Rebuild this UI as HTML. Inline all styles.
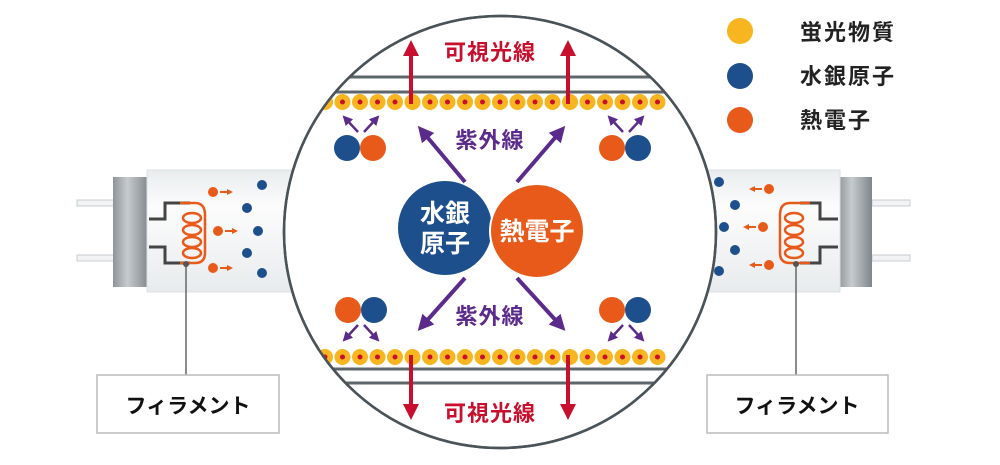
<!DOCTYPE html>
<html><head><meta charset="utf-8"><style>
html,body{margin:0;padding:0;background:#fff;width:1000px;height:465px;overflow:hidden}
svg text{font-family:"Liberation Sans","Noto Sans CJK JP",sans-serif;font-weight:bold}
</style></head><body>
<svg width="1000" height="465" viewBox="0 0 1000 465" xmlns="http://www.w3.org/2000/svg">
<defs>
<linearGradient id="cap" x1="0" x2="1"><stop offset="0" stop-color="#8e9499"/><stop offset="0.4" stop-color="#c7cbce"/><stop offset="1" stop-color="#7f868b"/></linearGradient>
<linearGradient id="glass" x1="0" y1="0" x2="0" y2="1"><stop offset="0" stop-color="#e9ecee"/><stop offset="0.3" stop-color="#fcfcfc"/><stop offset="1" stop-color="#e8ebed"/></linearGradient>
<marker id="pa" markerWidth="4" markerHeight="4" refX="2" refY="2" orient="auto" markerUnits="strokeWidth"><path d="M0,0 L4,2 L0,4 Z" fill="#5b2b8c"/></marker>
<marker id="ra" markerWidth="4" markerHeight="4" refX="2" refY="2" orient="auto" markerUnits="strokeWidth"><path d="M0,0 L4,2 L0,4 Z" fill="#c8102e"/></marker>
<marker id="oa" markerWidth="3" markerHeight="3" refX="1.5" refY="1.5" orient="auto" markerUnits="strokeWidth"><path d="M0,0 L3,1.5 L0,3 Z" fill="#e85a1a"/></marker>
<clipPath id="cc"><circle cx="500" cy="232" r="216"/></clipPath>
</defs>

<!-- left tube -->
<rect x="77" y="200" width="38" height="6" fill="#f2f3f4" stroke="#c8cccf"/>
<rect x="77" y="255" width="38" height="6" fill="#f2f3f4" stroke="#c8cccf"/>
<rect x="113" y="177" width="36" height="110" fill="url(#cap)"/>
<rect x="147" y="170" width="150" height="122" fill="url(#glass)" stroke="#dde0e2"/>
<path d="M149,219 H165 V203 H190" fill="none" stroke="#444" stroke-width="3"/>
<path d="M149,247 H165 V263 H190" fill="none" stroke="#444" stroke-width="3"/>
<path d="M180,203 H195 Q205,203 205,215 V253 Q205,263 195,263 H180" fill="none" stroke="#e85a1a" stroke-width="2.5"/>
<g fill="none" stroke="#e85a1a" stroke-width="2.5"><ellipse cx="192" cy="218" rx="9" ry="5"/><ellipse cx="192" cy="230" rx="9" ry="5"/><ellipse cx="192" cy="242" rx="9" ry="5"/><ellipse cx="192" cy="253" rx="9" ry="5"/></g>
<line x1="186" y1="264" x2="186" y2="375" stroke="#666" stroke-width="1.5"/><circle cx="186" cy="264" r="3" fill="#555"/>
<g fill="#e85a1a"><circle cx="213" cy="192" r="5"/><circle cx="218" cy="231" r="5"/><circle cx="213" cy="268" r="5"/></g>
<g stroke="#e85a1a" stroke-width="2" marker-end="url(#oa)"><line x1="220" y1="192" x2="230" y2="192"/><line x1="225" y1="231" x2="235" y2="231"/><line x1="220" y1="268" x2="230" y2="268"/></g>
<g fill="#1d4f8c"><circle cx="262" cy="185" r="5"/><circle cx="247" cy="208" r="5"/><circle cx="258" cy="231" r="5"/><circle cx="247" cy="253" r="5"/><circle cx="262" cy="273" r="5"/></g>

<!-- right tube -->
<rect x="872" y="200" width="38" height="6" fill="#f2f3f4" stroke="#c8cccf"/>
<rect x="872" y="255" width="38" height="6" fill="#f2f3f4" stroke="#c8cccf"/>
<rect x="838" y="177" width="34" height="110" fill="url(#cap)"/>
<rect x="700" y="170" width="140" height="122" fill="url(#glass)" stroke="#dde0e2"/>
<path d="M838,219 H820 V203 H800" fill="none" stroke="#444" stroke-width="3"/>
<path d="M838,247 H820 V263 H800" fill="none" stroke="#444" stroke-width="3"/>
<path d="M810,203 H790 Q780,203 780,215 V253 Q780,263 790,263 H810" fill="none" stroke="#e85a1a" stroke-width="2.5"/>
<g fill="none" stroke="#e85a1a" stroke-width="2.5"><ellipse cx="794" cy="218" rx="9" ry="5"/><ellipse cx="794" cy="230" rx="9" ry="5"/><ellipse cx="794" cy="242" rx="9" ry="5"/><ellipse cx="794" cy="253" rx="9" ry="5"/></g>
<line x1="796" y1="264" x2="796" y2="375" stroke="#666" stroke-width="1.5"/><circle cx="796" cy="264" r="3" fill="#555"/>
<g fill="#e85a1a"><circle cx="769" cy="189" r="5"/><circle cx="763" cy="227" r="5"/><circle cx="769" cy="265" r="5"/></g>
<g stroke="#e85a1a" stroke-width="2" marker-end="url(#oa)"><line x1="762" y1="189" x2="752" y2="189"/><line x1="756" y1="227" x2="746" y2="227"/><line x1="762" y1="265" x2="752" y2="265"/></g>
<g fill="#1d4f8c"><circle cx="719" cy="182" r="5"/><circle cx="735" cy="205" r="5"/><circle cx="724" cy="227" r="5"/><circle cx="735" cy="250" r="5"/><circle cx="719" cy="271" r="5"/></g>

<!-- big circle -->
<circle cx="500" cy="232" r="216" fill="#fff" stroke="#4a5358" stroke-width="2.5"/>
<g clip-path="url(#cc)" stroke="#5d666b" stroke-width="3">
<line x1="270" y1="77" x2="730" y2="77"/><line x1="270" y1="92" x2="730" y2="92"/>
<line x1="270" y1="369" x2="730" y2="369"/><line x1="270" y1="383" x2="730" y2="383"/>
</g>
<g clip-path="url(#cc)">
<g fill="#f7b520">
<circle cx="325" cy="102" r="8"/><circle cx="342.5" cy="102" r="8"/><circle cx="360" cy="102" r="8"/><circle cx="377.5" cy="102" r="8"/><circle cx="395" cy="102" r="8"/><circle cx="412.5" cy="102" r="8"/><circle cx="430" cy="102" r="8"/><circle cx="447.5" cy="102" r="8"/><circle cx="465" cy="102" r="8"/><circle cx="482.5" cy="102" r="8"/><circle cx="500" cy="102" r="8"/><circle cx="517.5" cy="102" r="8"/><circle cx="535" cy="102" r="8"/><circle cx="552.5" cy="102" r="8"/><circle cx="570" cy="102" r="8"/><circle cx="587.5" cy="102" r="8"/><circle cx="605" cy="102" r="8"/><circle cx="622.5" cy="102" r="8"/><circle cx="640" cy="102" r="8"/><circle cx="657.5" cy="102" r="8"/>
<circle cx="325" cy="357" r="8"/><circle cx="342.5" cy="357" r="8"/><circle cx="360" cy="357" r="8"/><circle cx="377.5" cy="357" r="8"/><circle cx="395" cy="357" r="8"/><circle cx="412.5" cy="357" r="8"/><circle cx="430" cy="357" r="8"/><circle cx="447.5" cy="357" r="8"/><circle cx="465" cy="357" r="8"/><circle cx="482.5" cy="357" r="8"/><circle cx="500" cy="357" r="8"/><circle cx="517.5" cy="357" r="8"/><circle cx="535" cy="357" r="8"/><circle cx="552.5" cy="357" r="8"/><circle cx="570" cy="357" r="8"/><circle cx="587.5" cy="357" r="8"/><circle cx="605" cy="357" r="8"/><circle cx="622.5" cy="357" r="8"/><circle cx="640" cy="357" r="8"/><circle cx="657.5" cy="357" r="8"/>
</g>
<g fill="#c8102e">
<circle cx="325" cy="102" r="2.5"/><circle cx="342.5" cy="102" r="2.5"/><circle cx="360" cy="102" r="2.5"/><circle cx="377.5" cy="102" r="2.5"/><circle cx="395" cy="102" r="2.5"/><circle cx="430" cy="102" r="2.5"/><circle cx="447.5" cy="102" r="2.5"/><circle cx="465" cy="102" r="2.5"/><circle cx="482.5" cy="102" r="2.5"/><circle cx="500" cy="102" r="2.5"/><circle cx="517.5" cy="102" r="2.5"/><circle cx="535" cy="102" r="2.5"/><circle cx="552.5" cy="102" r="2.5"/><circle cx="587.5" cy="102" r="2.5"/><circle cx="605" cy="102" r="2.5"/><circle cx="622.5" cy="102" r="2.5"/><circle cx="640" cy="102" r="2.5"/><circle cx="657.5" cy="102" r="2.5"/>
<circle cx="325" cy="357" r="2.5"/><circle cx="342.5" cy="357" r="2.5"/><circle cx="360" cy="357" r="2.5"/><circle cx="377.5" cy="357" r="2.5"/><circle cx="395" cy="357" r="2.5"/><circle cx="430" cy="357" r="2.5"/><circle cx="447.5" cy="357" r="2.5"/><circle cx="465" cy="357" r="2.5"/><circle cx="482.5" cy="357" r="2.5"/><circle cx="500" cy="357" r="2.5"/><circle cx="517.5" cy="357" r="2.5"/><circle cx="535" cy="357" r="2.5"/><circle cx="552.5" cy="357" r="2.5"/><circle cx="587.5" cy="357" r="2.5"/><circle cx="605" cy="357" r="2.5"/><circle cx="622.5" cy="357" r="2.5"/><circle cx="640" cy="357" r="2.5"/><circle cx="657.5" cy="357" r="2.5"/>
</g>
</g>
<circle cx="500" cy="232" r="216" fill="none" stroke="#4a5358" stroke-width="2.5"/>

<!-- red arrows -->
<g stroke="#c8102e" stroke-width="4" marker-end="url(#ra)">
<line x1="411" y1="104" x2="411" y2="48"/><line x1="568" y1="104" x2="568" y2="48"/>
<line x1="411" y1="355" x2="411" y2="412"/><line x1="568" y1="355" x2="568" y2="412"/>
</g>
<text x="490" y="60" font-size="22" fill="#c8102e" text-anchor="middle" letter-spacing="1">可視光線</text>
<text x="490" y="421" font-size="22" fill="#c8102e" text-anchor="middle" letter-spacing="1">可視光線</text>

<!-- purple arrows -->
<g stroke="#5b2b8c" stroke-width="4" marker-end="url(#pa)">
<line x1="465" y1="182" x2="423" y2="132"/><line x1="517" y1="182" x2="560" y2="132"/>
<line x1="465" y1="278" x2="423" y2="325"/><line x1="517" y1="278" x2="560" y2="325"/>
</g>
<g stroke="#5b2b8c" stroke-width="2.5" marker-end="url(#pa)">
<line x1="358" y1="132" x2="346" y2="119"/><line x1="364" y1="132" x2="376" y2="119"/>
<line x1="623" y1="132" x2="611" y2="119"/><line x1="629" y1="132" x2="641" y2="119"/>
<line x1="358" y1="325" x2="346" y2="338"/><line x1="364" y1="325" x2="376" y2="338"/>
<line x1="623" y1="325" x2="611" y2="338"/><line x1="629" y1="325" x2="641" y2="338"/>
</g>
<text x="490" y="148" font-size="22" fill="#5b2b8c" text-anchor="middle" letter-spacing="1">紫外線</text>
<text x="490" y="324" font-size="22" fill="#5b2b8c" text-anchor="middle" letter-spacing="1">紫外線</text>

<!-- small pairs -->
<circle cx="347" cy="148" r="13" fill="#1d4f8c"/><circle cx="373" cy="148" r="13" fill="#e85a1a"/>
<circle cx="612" cy="148" r="13" fill="#e85a1a"/><circle cx="638" cy="148" r="13" fill="#1d4f8c"/>
<circle cx="348" cy="310" r="13" fill="#e85a1a"/><circle cx="374" cy="310" r="13" fill="#1d4f8c"/>
<circle cx="612" cy="310" r="13" fill="#e85a1a"/><circle cx="638" cy="310" r="13" fill="#1d4f8c"/>

<!-- big atoms -->
<circle cx="445" cy="228" r="47" fill="#1d4f8c"/>
<circle cx="537" cy="231" r="47" fill="#e85a1a" stroke="#fff" stroke-width="2"/>
<text x="445" y="222" font-size="25" fill="#fff" text-anchor="middle">水銀</text>
<text x="445" y="252" font-size="25" fill="#fff" text-anchor="middle">原子</text>
<text x="537" y="240" font-size="25" fill="#fff" text-anchor="middle">熱電子</text>

<!-- legend -->
<circle cx="740" cy="31" r="13" fill="#f7b520"/><circle cx="740" cy="76" r="13" fill="#1d4f8c"/><circle cx="740" cy="120" r="13" fill="#e85a1a"/>
<g font-size="22" fill="#222"><text x="800" y="40" letter-spacing="2">蛍光物質</text><text x="800" y="84" letter-spacing="2">水銀原子</text><text x="800" y="128" letter-spacing="2">熱電子</text></g>

<!-- label boxes -->
<rect x="97" y="375" width="182" height="58" fill="#fff" stroke="#bbb" stroke-width="1.5"/>
<rect x="707" y="375" width="181" height="58" fill="#fff" stroke="#bbb" stroke-width="1.5"/>
<text x="188" y="413" font-size="21" fill="#111" text-anchor="middle">フィラメント</text>
<text x="797" y="413" font-size="21" fill="#111" text-anchor="middle">フィラメント</text>
</svg>
</body></html>
